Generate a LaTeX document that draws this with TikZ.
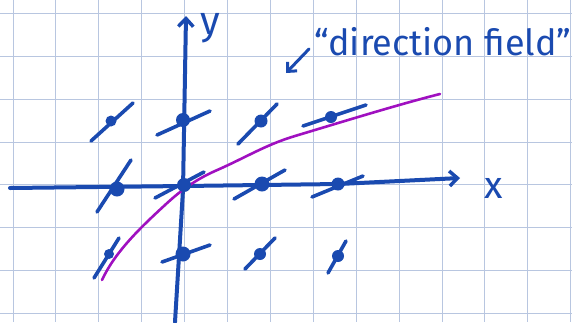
\documentclass[tikz,border=0pt]{standalone}
\usepackage{fontspec}
\setmainfont{Fira Sans}
\usetikzlibrary{arrows.meta}
\definecolor{ink}{RGB}{26,74,176}
\definecolor{curvecol}{RGB}{160,16,192}
\definecolor{gridcol}{RGB}{184,198,224}
\tikzset{
  axisline/.style={ink, line width=4pt, line cap=round, line join=round},
  slopemark/.style={ink, line width=3.6pt, line cap=round},
  dotnode/.style={circle, fill=ink, inner sep=0pt, minimum size=#1},
  dotnode/.default=12pt,
  handtext/.style={text=ink, inner sep=0pt},
}
\begin{document}
\begin{tikzpicture}[x=1pt,y=-1pt]
\useasboundingbox (0,0) rectangle (572,322);
% grid
\foreach \k in {0,...,13} \draw[gridcol, line width=1pt] ({13+42.9*\k},0) -- ({13+42.9*\k},322);
\foreach \k in {0,...,7} \draw[gridcol, line width=1pt] (0,{13.3+42.9*\k}) -- (572,{13.3+42.9*\k});
% axes
\coordinate (ybot) at (175,322);
\coordinate (ymid) at (183,190);
\coordinate (ytop) at (186,16);
\draw[axisline, -{Straight Barb[length=8pt,width=15pt,line width=3.5pt]}] (ybot) -- (ymid) -- (ytop);
\coordinate (xleft) at (10,188);
\coordinate (xm1) at (184,186);
\coordinate (xm2) at (339,184);
\coordinate (xright) at (460,178);
\draw[axisline, -{Straight Barb[length=8pt,width=15pt,line width=3.5pt]}] (xleft) -- (xm1) -- (xm2) -- (xright);
\node[handtext, font=\fontsize{40}{40}\selectfont] (ylab) at (210,28) {y};
\node[handtext, font=\fontsize{38}{38}\selectfont] (xlab) at (494,188) {x};
% purple solution curve
\draw[curvecol, line width=2.6pt, line cap=round] (102,280)
  .. controls (115,252) and (140,228) .. (165,205)
  .. controls (180,191) and (195,180) .. (215,171)
  .. controls (245,158) and (265,145) .. (295,136)
  .. controls (345,121) and (400,104) .. (440,94);
% slope marks: top row
\draw[slopemark] (91,141) -- (133,103);
\node[dotnode=11pt] (d11) at (111,121) {};
\draw[slopemark] (157,135) -- (210,111);
\node[dotnode=14pt] (d12) at (183,120) {};
\draw[slopemark] (238,144) -- (277,104);
\node[dotnode=13pt] (d13) at (261,121) {};
\draw[slopemark] (303,126) -- (366,105);
\node[dotnode=12pt] (d14) at (331,117) {};
% middle row
\draw[slopemark] (97,212) -- (131,160);
\node[dotnode=15pt] (d21) at (117,189) {};
\draw[slopemark] (155,198) -- (204,172);
\node[dotnode=14pt] (d22) at (184,185) {};
\draw[slopemark] (234,199) -- (285,170);
\node[dotnode=15pt] (d23) at (262,184) {};
\draw[slopemark] (312,197) -- (363,176);
\node[dotnode=13pt] (d24) at (338,184) {};
% bottom row
\draw[slopemark] (94,278) -- (119,238);
\node[dotnode=10pt] (d31) at (109,254) {};
\draw[slopemark] (162,262) -- (210,245);
\node[dotnode=15pt] (d32) at (183,254) {};
\draw[slopemark] (245,269) -- (275,238);
\node[dotnode=12pt] (d33) at (260,254) {};
\draw[slopemark] (328,273) -- (346,241);
\node[dotnode=12pt] (d34) at (338,256) {};
% annotation
\node[handtext, anchor=west, font=\fontsize{36}{36}\selectfont] (lbl) at (314,42) {“direction field”};
\coordinate (atip) at (286,73);
\coordinate (atail) at (309,49);
\draw[ink, line width=3pt, line cap=round, -{Straight Barb[length=7pt,width=13pt,line width=3pt]}] (atail) -- (atip);
\end{tikzpicture}
\end{document}
